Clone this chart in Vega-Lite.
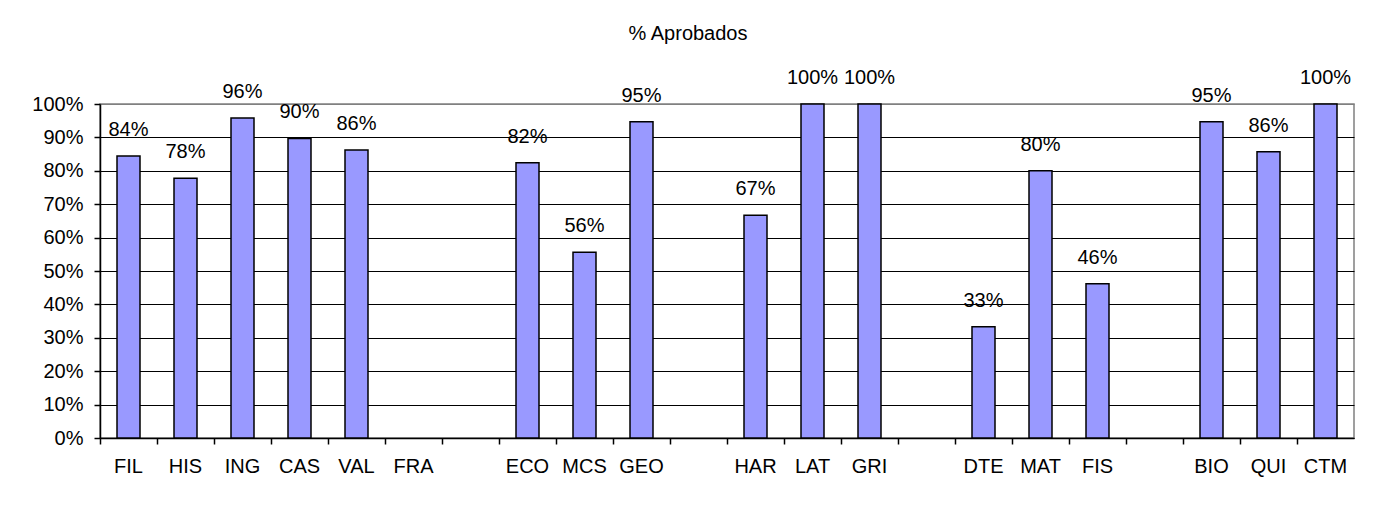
{
  "$schema": "https://vega.github.io/schema/vega-lite/v6.json",
  "autosize": {"type": "none"},
  "padding": {"left": 100, "top": 104, "right": 21, "bottom": 75},
  "width": 1254,
  "height": 334,
  "background": "white",
  "title": {
    "text": "% Aprobados",
    "font": "Liberation Sans",
    "fontSize": 20,
    "fontWeight": "normal",
    "color": "black",
    "anchor": "middle",
    "dx": -39,
    "offset": 24
  },
  "config": {
    "view": {"stroke": "#808080", "strokeWidth": 1.5},
    "font": "Liberation Sans"
  },
  "data": {
    "values": [
      {"asignatura": "FIL", "aprobados": 0.844},
      {"asignatura": "HIS", "aprobados": 0.778},
      {"asignatura": "ING", "aprobados": 0.958},
      {"asignatura": "CAS", "aprobados": 0.897},
      {"asignatura": "VAL", "aprobados": 0.862},
      {"asignatura": "ECO", "aprobados": 0.824},
      {"asignatura": "MCS", "aprobados": 0.556},
      {"asignatura": "GEO", "aprobados": 0.947},
      {"asignatura": "HAR", "aprobados": 0.667},
      {"asignatura": "LAT", "aprobados": 1.0},
      {"asignatura": "GRI", "aprobados": 1.0},
      {"asignatura": "DTE", "aprobados": 0.333},
      {"asignatura": "MAT", "aprobados": 0.8},
      {"asignatura": "FIS", "aprobados": 0.462},
      {"asignatura": "BIO", "aprobados": 0.947},
      {"asignatura": "QUI", "aprobados": 0.857},
      {"asignatura": "CTM", "aprobados": 1.0}
    ]
  },
  "encoding": {
    "x": {
      "field": "asignatura",
      "type": "nominal",
      "sort": null,
      "scale": {
        "domain": ["FIL", "HIS", "ING", "CAS", "VAL", "FRA", "_1", "ECO", "MCS", "GEO", "_2", "HAR", "LAT", "GRI", "_3", "DTE", "MAT", "FIS", "_4", "BIO", "QUI", "CTM"],
        "paddingInner": 0,
        "paddingOuter": 0
      },
      "axis": {
        "title": null,
        "labelAngle": 0,
        "labelFont": "Liberation Sans",
        "labelFontSize": 20,
        "labelColor": "black",
        "labelPadding": 12,
        "labelExpr": "indexof(datum.label, '_') == 0 ? '' : datum.label",
        "bandPosition": 0,
        "domainColor": "black",
        "domainWidth": 1.5,
        "tickColor": "black",
        "tickWidth": 1.5,
        "tickSize": 6,
        "grid": false
      }
    },
    "y": {
      "field": "aprobados",
      "type": "quantitative",
      "scale": {"domain": [0, 1], "nice": false},
      "axis": {
        "title": null,
        "format": ".0%",
        "values": [0, 0.1, 0.2, 0.3, 0.4, 0.5, 0.6, 0.7, 0.8, 0.9, 1],
        "labelFont": "Liberation Sans",
        "labelFontSize": 20,
        "labelColor": "black",
        "labelPadding": 11,
        "domainColor": "black",
        "domainWidth": 1.5,
        "tickColor": "black",
        "tickWidth": 1.5,
        "tickSize": 6,
        "grid": true,
        "gridColor": {"condition": {"test": "datum.value == 1", "value": "#808080"}, "value": "black"},
        "gridWidth": 1.2,
        "gridOpacity": 1
      }
    }
  },
  "layer": [
    {
      "mark": {"type": "bar", "size": 23, "fill": "#9999FF", "stroke": "black", "strokeWidth": 1.5}
    },
    {
      "mark": {"type": "text", "baseline": "alphabetic", "dy": -20, "font": "Liberation Sans", "fontSize": 20, "color": "black"},
      "encoding": {
        "text": {"field": "aprobados", "type": "quantitative", "format": ".0%"}
      }
    }
  ]
}
